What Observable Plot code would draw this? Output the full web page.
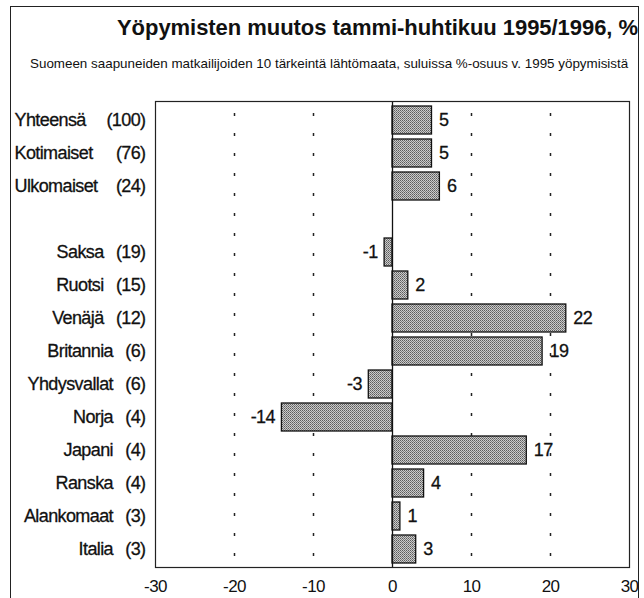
<!DOCTYPE html>
<html>
<head>
<meta charset="utf-8">
<script src="https://cdn.jsdelivr.net/npm/d3@7"></script>
<script src="https://cdn.jsdelivr.net/npm/@observablehq/plot@0.6"></script>
<style>
  html, body { margin: 0; padding: 0; background: #fff; }
  #wrap { position: relative; width: 644px; height: 598px; overflow: hidden;
          font-family: "Liberation Sans", Arial, sans-serif; color: #111; }
  #border { position: absolute; left: 10px; top: 6px; width: 629px; height: 620px;
            border: 1.5px solid #222; box-sizing: border-box; }
  #title { position: absolute; right: 6px; top: 15px; font-size: 22px; line-height: 25px; font-weight: bold; white-space: nowrap; letter-spacing: -0.05px; }
  #subtitle { position: absolute; left: 30px; top: 56px; font-size: 13.4px; line-height: 15px; white-space: nowrap; }
  #chart { position: absolute; left: 0; top: 88px; }
</style>
</head>
<body>
<div id="wrap">
  <div id="border"></div>
  <div id="title">Yöpymisten muutos tammi-huhtikuu 1995/1996, %</div>
  <div id="subtitle">Suomeen saapuneiden matkailijoiden 10 tärkeintä lähtömaata, suluissa %-osuus v. 1995 yöpymisistä</div>
  <div id="chart"></div>
</div>
<script>
const categories = ["Yhteensä", "Kotimaiset", "Ulkomaiset", "", "Saksa", "Ruotsi", "Venäjä", "Britannia",
  "Yhdysvallat", "Norja", "Japani", "Ranska", "Alankomaat", "Italia"];
const shares = [100, 76, 24, null, 19, 15, 12, 6, 6, 4, 4, 4, 3, 3];
const changes = [5, 5, 6, null, -1, 2, 22, 19, -3, -14, 17, 4, 1, 3];
const xTicks = [-30, -20, -10, 0, 10, 20, 30];
const gridTicks = [-20, -10, 10, 20];

const rows = categories.map((c, i) => ({key: i, name: c, share: shares[i], value: changes[i], group: i < 3 ? "total" : "country"}));
const bars = rows.filter(d => d.value != null);
const pos = bars.filter(d => d.value >= 0);
const neg = bars.filter(d => d.value < 0);
const totals = rows.filter(d => d.group === "total");
const countries = rows.filter(d => d.group === "country" && d.name);

const font = '"Liberation Sans", Arial, sans-serif';
const labelStyle = {fontSize: 18, fill: "#111", stroke: "#111", strokeWidth: 0.3, letterSpacing: "-0.4px"};

const chart = Plot.plot({
  width: 644,
  height: 510,
  marginLeft: 155,
  marginRight: 15,
  marginTop: 13,
  marginBottom: 31,
  style: {fontFamily: font, fontSize: "17px", color: "#111", background: "transparent", letterSpacing: "-0.6px"},
  x: {domain: [-30, 30], ticks: xTicks, tickFormat: d => String(d), tickSize: 0, tickPadding: 12, label: null},
  y: {domain: rows.map(d => d.key), paddingInner: 0.16, paddingOuter: 0.08, axis: null},
  marks: [
    Plot.ruleX(gridTicks, {stroke: "#222", strokeWidth: 1.5, strokeDasharray: "3,17", strokeDashoffset: 8}),
    Plot.barX(bars, {x1: 0, x2: "value", y: "key", fill: "url(#dotfill)", stroke: "#111", strokeWidth: 1.3}),
    Plot.ruleX([0], {stroke: "#111", strokeWidth: 1.3}),
    Plot.frame({stroke: "#222", strokeWidth: 1.2}),
    Plot.text(pos, {x: "value", y: "key", text: d => String(d.value), textAnchor: "start", dx: 7, fontSize: 18, fill: "#111", stroke: "#111", strokeWidth: 0.3, letterSpacing: "-0.8px"}),
    Plot.text(neg, {x: "value", y: "key", text: d => String(d.value), textAnchor: "end", dx: -7, fontSize: 18, fill: "#111", stroke: "#111", strokeWidth: 0.3, letterSpacing: "-0.8px"}),
    Plot.text(totals, {y: "key", frameAnchor: "left", dx: -141, textAnchor: "start", text: "name", ...labelStyle}),
    Plot.text(totals, {y: "key", frameAnchor: "left", dx: -10, textAnchor: "end", text: d => "(" + d.share + ")", ...labelStyle}),
    Plot.text(countries, {y: "key", frameAnchor: "left", dx: -10, textAnchor: "end", text: d => d.name + "\u2002\u2005(" + d.share + ")", ...labelStyle})
  ]
});

document.getElementById("chart").appendChild(chart);

// dotted screen fill for bars
const svg = d3.select(chart);
const defs = svg.insert("defs", ":first-child");
const pat = defs.append("pattern").attr("id", "dotfill").attr("patternUnits", "userSpaceOnUse")
  .attr("width", 2).attr("height", 2);
pat.append("rect").attr("width", 2).attr("height", 2).attr("fill", "#cbcbcb");
pat.append("rect").attr("width", 1).attr("height", 1).attr("fill", "#5c5c5c");
pat.append("rect").attr("x", 1).attr("y", 1).attr("width", 1).attr("height", 1).attr("fill", "#7c7c7c");
</script>
</body>
</html>
